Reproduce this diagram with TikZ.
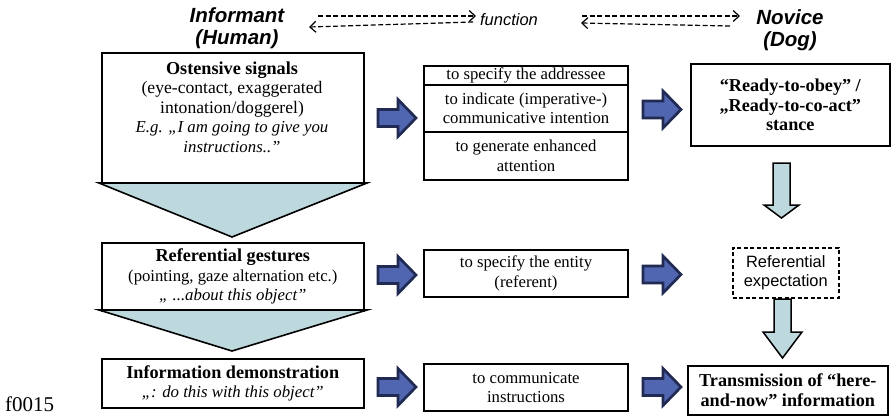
\documentclass[tikz,border=0pt]{standalone}
\usepackage{fontspec}
\setmainfont{Liberation Serif}
\setsansfont{Liberation Sans}
\usetikzlibrary{arrows.meta}
\definecolor{lblue}{RGB}{190,217,221}
\definecolor{bfill}{RGB}{80,102,176}
\definecolor{bline}{RGB}{32,42,82}
\newcommand\bodyfs{\fontsize{16.7}{19.5}\selectfont}
\newcommand\mybf[1]{{\fontsize{18.2}{19.5}\selectfont\bfseries #1}}
\newcommand\myit[1]{{\fontsize{16.8}{19.5}\selectfont\itshape #1}}
\newcommand\mybig[1]{{\fontsize{17.6}{19.5}\selectfont #1}}
\begin{document}
\begin{tikzpicture}[x=1pt,y=-1pt,
  box/.style={draw,line width=1.6pt,inner sep=0pt,anchor=north west,align=center,font=\bodyfs},
  cell/.style={box,line width=2pt,minimum width=204pt},
  txt/.style={inner sep=0pt,align=center,font=\bodyfs},
  hdr/.style={inner sep=0pt,align=center,font=\sffamily\bfseries\itshape\fontsize{20.5}{22}\selectfont},
  dashln/.style={dashed,dash pattern=on 5pt off 2.5pt,line width=1.2pt},
  tri/.style={draw,line width=1.6pt,fill=lblue,line join=miter},
  down/.style={draw,line width=1.5pt,fill=lblue,line join=miter},
  barrow/.pic={\draw[bline,line width=2.7pt,fill=bfill,line join=miter]
     (0,-8.5) -- (20,-8.5) -- (20,-18.5) -- (38,0) -- (20,18.5) -- (20,8.5) -- (0,8.5) -- cycle;}
]
\useasboundingbox (0,0) rectangle (892,416);

% headers
\node[hdr] (inf) at (237,28.5) {Informant\\(Human)};
\node[hdr] (nov) at (790,30) {Novice\\(Dog)};
\node[inner sep=0pt,font=\sffamily\itshape\fontsize{16.5}{18}\selectfont] (fn) at (509,20) {function};

\coordinate (la1) at (318,16); \coordinate (la2) at (476,16);
\coordinate (lb1) at (473,22); \coordinate (lb2) at (309,27);
\coordinate (ra1) at (582,16); \coordinate (ra2) at (740,16);
\coordinate (rb1) at (730,26); \coordinate (rb2) at (581,23);
\draw[dashln,-{Straight Barb[length=6pt,width=11pt,line width=1.2pt]}] (la1) -- (la2);
\draw[dashln,-{Straight Barb[length=6pt,width=11pt,line width=1.2pt]}] (lb1) -- (lb2);
\draw[dashln,-{Straight Barb[length=6pt,width=11pt,line width=1.2pt]}] (ra1) -- (ra2);
\draw[dashln,-{Straight Barb[length=6pt,width=11pt,line width=1.2pt]}] (rb1) -- (rb2);

% left column
\node[box,minimum width=262pt,minimum height=131pt] (b1) at (101,52) {};
\node[txt] (t1) at (232,107) {\mybf{Ostensive signals}\\\mybig{(eye-contact, exaggerated}\\\mybig{intonation/doggerel)}\\\myit{E.g. „I am going to give you}\\\myit{instructions..”}};
\draw[tri] (99,183) -- (367,183) -- (232,237) -- cycle;

\node[box,minimum width=262pt,minimum height=68pt] (b2) at (101,242) {\mybf{Referential gestures}\\(pointing, gaze alternation etc.)\\\myit{„ ...about this object”}};
\draw[tri] (99,310) -- (367,310) -- (232,351) -- cycle;

\node[box,minimum width=262pt,minimum height=49pt] (b3) at (101,358) {\mybf{Information demonstration}\\\myit{„: do this with this object”}};

% middle column
\node[cell,minimum height=19pt] (c1) at (423,65) {to specify the addressee};
\node[cell,minimum height=47pt] (c2) at (423,84) {to indicate (imperative-)\\communicative intention};
\node[cell,minimum height=48pt] (c3) at (423,131) {to generate enhanced\\attention};
\node[cell,minimum height=47pt] (c4) at (423,249) {to specify the entity\\(referent)};
\node[cell,minimum height=47pt] (c5) at (423,363) {to communicate\\instructions};

% right column
\node[box,minimum width=199pt,minimum height=82pt] (r1) at (690,63) {\mybf{“Ready-to-obey” /}\\\mybf{„Ready-to-co-act”}\\\mybf{stance}};
\node[box,dashed,dash pattern=on 4pt off 2.5pt,minimum width=106pt,minimum height=50pt,font=\sffamily\fontsize{16.4}{19}\selectfont] (r2) at (732,247) {Referential\\expectation};
\node[box,minimum width=200pt,minimum height=49pt] (r3) at (687,365) {\mybf{Transmission of “here-}\\\mybf{and-now” information}};

% blue arrows
\pic at (378,118) {barrow};
\pic at (643,109.5) {barrow};
\pic at (378,275) {barrow};
\pic at (643,274.5) {barrow};
\pic at (378,387) {barrow};
\pic at (643,387) {barrow};

% down arrows
\draw[down] (773,163) -- (790,163) -- (790,205) -- (799,205) -- (781.5,218) -- (764,205) -- (773,205) -- cycle;
\draw[down] (774,299) -- (791,299) -- (791,332) -- (802,332) -- (782.5,358) -- (763,332) -- (774,332) -- cycle;

\node[anchor=base west,inner sep=0pt,font=\fontsize{21}{24}\selectfont] (fig) at (5,411) {f0015};
\end{tikzpicture}
\end{document}
